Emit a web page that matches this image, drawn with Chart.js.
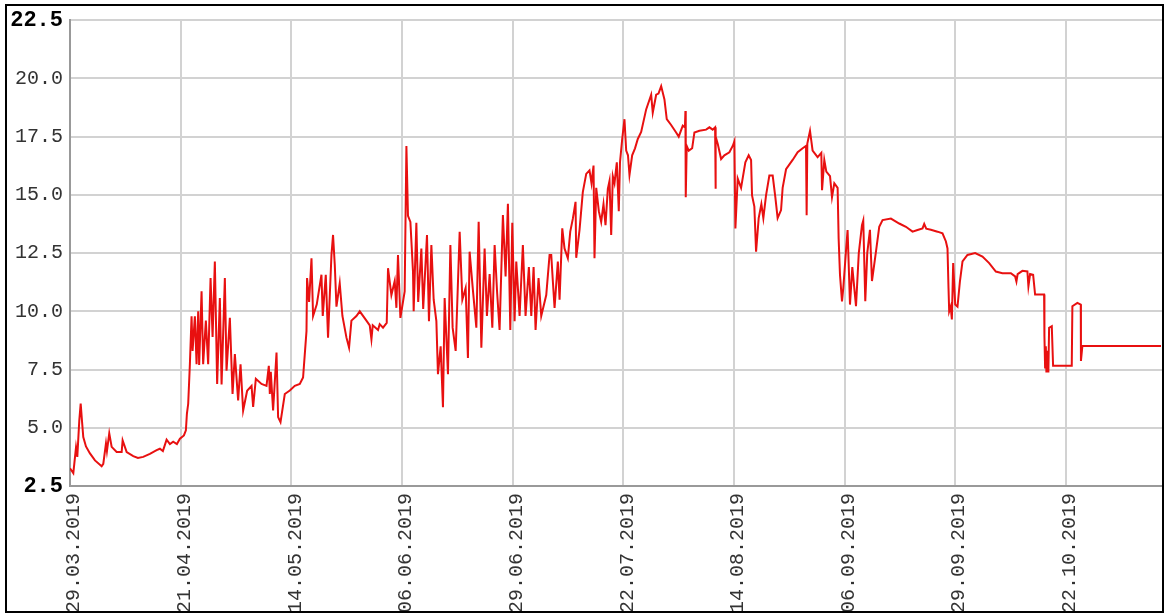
<!DOCTYPE html>
<html>
<head>
<meta charset="utf-8">
<script src="https://cdn.jsdelivr.net/npm/chart.js@4/dist/chart.umd.min.js"></script>
<style>
  html, body { margin: 0; padding: 0; background: #fff; overflow: hidden; }
  #frame {
    position: absolute; left: 5px; top: 4px; width: 1159px; height: 609px;
    border: 2px solid #000; box-sizing: border-box; overflow: hidden; background: #fff;
  }
  #chart { position: absolute; left: -7px; top: -6px; }
</style>
</head>
<body>
<div id="frame"><canvas id="chart" width="1164" height="660"></canvas></div>
<script>
// Days counted from 29.03.2019 and the reading at each of those moments
const dayOffsets = [
  0.00, 0.69, 1.25, 1.52, 1.93, 2.22, 2.49, 2.76, 3.32, 4.15, 5.19, 6.58, 6.92, 7.48, 7.68, 8.16, 8.66, 9.70,
  10.74, 10.94, 11.78, 13.15, 14.12, 15.22, 16.61, 18.01, 18.69, 19.31, 20.08, 20.77, 21.45, 22.22, 22.85,
  23.68, 24.09, 24.30, 24.57, 24.92, 25.27, 25.48, 25.96, 26.31, 26.65, 26.85, 27.35, 27.68, 28.24, 28.72,
  29.22, 29.64, 30.11, 30.59, 31.15, 31.51, 32.19, 32.54, 33.23, 33.79, 34.27, 34.95, 35.45, 35.99, 36.82,
  37.74, 38.07, 38.63, 39.81, 40.85, 41.33, 41.54, 41.74, 42.22, 42.93, 43.26, 43.76, 44.65, 45.69, 46.73,
  47.77, 48.45, 49.16, 49.28, 49.70, 50.20, 50.53, 51.30, 52.27, 52.54, 53.17, 53.64, 54.35, 54.68, 55.04,
  55.39, 56.07, 56.63, 57.47, 58.01, 58.50, 59.54, 60.23, 61.62, 62.31, 62.66, 62.93, 64.03, 64.38, 65.07,
  65.84, 66.11, 66.81, 67.50, 67.85, 68.18, 68.68, 69.57, 69.93, 70.26, 70.76, 71.30, 71.44, 72.00, 72.38,
  73.04, 73.42, 74.21, 74.62, 75.12, 75.60, 76.16, 76.49, 77.05, 77.53, 77.88, 78.57, 79.07, 79.54, 80.17,
  81.00, 81.56, 82.24, 82.72, 83.07, 83.76, 84.47, 84.95, 85.51, 86.19, 86.67, 87.23, 87.79, 88.27, 88.79,
  89.30, 89.99, 90.55, 91.03, 91.53, 91.94, 92.42, 92.77, 93.46, 94.14, 94.70, 95.39, 95.89, 96.37, 96.78,
  97.40, 97.96, 99.00, 99.69, 100.04, 100.37, 100.73, 101.41, 101.77, 102.33, 102.80, 103.49, 103.99,
  104.53, 105.09, 105.23, 105.92, 106.60, 107.31, 107.99, 108.41, 108.83, 109.03, 109.39, 109.93, 110.42,
  110.90, 111.32, 111.80, 112.15, 112.50, 112.84, 113.19, 113.67, 114.08, 114.33, 114.79, 115.26, 115.62,
  115.99, 116.30, 116.86, 117.45, 118.03, 118.73, 119.77, 120.81, 121.14, 121.85, 122.33, 122.89, 123.57,
  124.05, 124.96, 126.00, 126.54, 127.38, 127.83, 127.93, 128.00, 128.20, 128.62, 129.33, 129.80, 130.84,
  132.23, 132.92, 133.60, 134.10, 134.16, 134.27, 134.64, 135.35, 136.03, 137.07, 137.76, 138.11, 138.32,
  138.80, 139.50, 140.39, 141.08, 141.58, 141.78, 142.26, 142.62, 143.16, 143.72, 144.13, 144.69, 145.38,
  146.07, 146.62, 147.10, 147.81, 148.14, 148.85, 150.22, 151.26, 152.30, 153.00, 153.13, 153.27, 153.83,
  154.37, 155.41, 156.18, 156.33, 156.80, 157.22, 157.99, 158.40, 158.88, 159.57, 159.78, 160.06, 160.48,
  160.75, 161.31, 161.64, 162.14, 162.62, 163.39, 163.97, 164.63, 164.90, 165.32, 165.73, 166.29, 166.71,
  167.54, 168.22, 168.91, 170.65, 172.38, 173.77, 175.14, 176.18, 177.22, 177.57, 177.99, 178.96, 180.33,
  181.37, 182.08, 182.41, 182.62, 182.76, 183.07, 183.32, 183.59, 184.01, 184.49, 184.99, 185.53, 186.56,
  188.16, 189.68, 191.07, 192.46, 193.83, 195.58, 196.47, 196.74, 196.99, 197.98, 199.02, 199.23, 199.58,
  200.21, 200.62, 202.49, 202.56, 202.70, 202.85, 202.97, 203.18, 203.38, 203.53, 204.09, 204.36, 208.24,
  208.37, 209.41, 210.11, 210.15, 210.45, 226.80
];

const readings = [
  3.26, 3.05, 4.16, 3.75, 5.31, 6.04, 5.30, 4.60, 4.20, 3.90, 3.60, 3.35, 3.45, 4.33, 4.00, 4.76, 4.18, 3.96,
  3.96, 4.46, 3.96, 3.78, 3.70, 3.75, 3.88, 4.04, 4.10, 4.00, 4.49, 4.30, 4.40, 4.30, 4.53,
  4.67, 4.89, 5.60, 6.03, 7.73, 9.79, 8.30, 9.79, 7.73, 10.00, 7.70, 10.86, 7.73, 9.60, 7.73,
  11.43, 8.90, 12.14, 6.88, 10.57, 6.86, 11.43, 7.45, 9.72, 6.45, 8.16, 6.17, 7.73, 5.74, 6.59,
  6.80, 5.90, 7.10, 6.88, 6.80, 7.66, 6.45, 7.40, 5.74, 8.23, 5.46, 5.24, 6.45, 6.60, 6.80,
  6.88, 7.16, 9.15, 11.43, 10.40, 12.28, 9.80, 10.30, 11.57, 9.80, 11.57, 8.87, 12.42, 13.28, 12.00,
  10.20, 11.20, 9.80, 8.87, 8.44, 9.60, 9.80, 10.00, 9.60, 9.40, 8.80, 9.40, 9.20, 9.45, 9.30,
  9.50, 11.85, 10.70, 11.30, 10.15, 12.42, 9.72, 10.86, 17.10, 14.10, 13.84, 11.70, 10.00, 13.80, 10.40,
  12.70, 10.10, 13.28, 9.58, 12.85, 10.50, 9.58, 7.30, 8.50, 5.88, 10.57, 7.30, 12.85, 9.30, 8.30,
  13.42, 10.50, 11.00, 8.00, 12.56, 10.90, 9.30, 13.84, 8.44, 12.70, 9.80, 11.60, 9.30, 12.85, 10.80,
  9.20, 14.13, 11.50, 14.62, 9.20, 13.80, 9.58, 12.14, 9.80, 12.85, 9.80, 11.90, 9.80, 11.90, 9.20,
  11.43, 9.80, 10.70, 12.42, 12.42, 11.30, 10.15, 12.14, 10.50, 13.56, 12.70, 12.28, 13.42,
  13.98, 14.70, 12.30, 13.50, 15.12, 15.90, 16.05, 15.50, 16.26, 12.28, 15.30, 14.30, 13.84,
  14.60, 13.70, 15.26, 15.60, 13.28, 15.80, 15.50, 16.40, 14.30, 16.40, 17.40, 18.25, 16.90,
  16.70, 15.85, 16.70, 17.00, 17.40, 17.70, 18.67, 19.30, 18.53, 19.30, 19.35, 19.67, 19.10,
  18.25, 18.00, 17.68, 17.50, 17.97, 17.90, 18.60, 14.90, 17.10, 16.90, 17.00, 17.68, 17.75,
  17.80, 17.90, 17.80, 17.90, 15.26, 17.50, 17.20, 16.54, 16.70, 16.83, 17.10, 17.30, 13.56,
  15.70, 15.30, 16.40, 16.70, 16.50, 14.98, 14.50, 12.56, 14.00, 14.60, 14.00, 14.98, 15.83,
  15.83, 14.90, 14.00, 14.35, 15.30, 16.10, 16.50, 16.83, 17.00, 17.10, 14.13, 17.20, 17.75,
  16.90, 16.62, 16.80, 15.20, 16.50, 16.00, 15.80, 14.90, 15.50, 15.30, 13.13, 11.57, 10.43,
  11.00, 12.60, 13.49, 10.29, 11.90, 10.22, 12.50, 13.70, 13.90, 10.43, 12.50, 13.50, 11.30,
  12.56, 13.63, 13.92, 13.98, 13.77, 13.63, 13.42, 13.49, 13.56, 13.75, 13.55, 13.50, 13.42,
  13.35, 13.00, 12.70, 11.00, 10.00, 10.20, 9.65, 12.07, 10.29, 10.20, 11.28, 12.14, 12.42,
  12.50, 12.35, 12.07, 11.71, 11.64, 11.64, 11.50, 11.28, 11.60, 11.74, 11.71, 11.07, 11.60,
  11.57, 10.72, 10.72, 8.94, 7.59, 8.50, 7.37, 8.30, 7.37, 9.29, 9.36, 7.66, 7.66,
  10.22, 10.36, 10.29, 7.87, 8.51, 8.51
];

// Axis marks: tick positions (days from 29.03.2019) and their date labels
const tickDays = [0, 23, 46, 69, 92, 115, 138, 161, 184, 207];
const tickLabels = ['29.03.2019', '21.04.2019', '14.05.2019', '06.06.2019', '29.06.2019',
                    '22.07.2019', '14.08.2019', '06.09.2019', '29.09.2019', '22.10.2019'];
const yMin = 2.5, yMax = 22.5, yStep = 2.5;
const dayMax = 227;

const FONT = '"Liberation Mono", "DejaVu Sans Mono", monospace';
const points = dayOffsets.map((d, i) => ({ x: d, y: readings[i] }));

Chart.defaults.font.family = FONT;
Chart.defaults.font.size = 20;
Chart.defaults.color = '#333';

const isEndValue = (v) => Math.abs(v - yMin) < 1e-6 || Math.abs(v - yMax) < 1e-6;

// the companion label axis takes no layout space; give it the same band as
// the value axis (canvas edge to plot edge) so its labels are not clipped away
const alignEndLabels = {
  id: 'alignEndLabels',
  afterLayout(chart) {
    const s = chart.scales.yEnds;
    if (s) {
      s.left = 0;
      s.right = chart.chartArea.left;
      s.width = chart.chartArea.left;
    }
  }
};

new Chart(document.getElementById('chart'), {
  type: 'line',
  data: {
    datasets: [{
      data: points,
      borderColor: '#e81010',
      borderWidth: 2,
      pointRadius: 0,
      tension: 0,
      fill: false
    }]
  },
  plugins: [alignEndLabels],
  options: {
    responsive: false,
    animation: false,
    devicePixelRatio: 1,
    layout: { padding: { top: 17, right: 2, left: 0, bottom: 0 } },
    plugins: { legend: { display: false }, tooltip: { enabled: false } },
    scales: {
      x: {
        type: 'linear',
        min: 0,
        max: dayMax,
        afterBuildTicks: (scale) => { scale.ticks = tickDays.map(v => ({ value: v })); },
        afterFit: (scale) => { scale.height = 174; },
        grid: { color: '#d2d2d2', lineWidth: 2, drawTicks: false },
        border: { color: '#999', width: 2 },
        ticks: {
          autoSkip: false,
          maxRotation: 90,
          minRotation: 90,
          padding: 7,
          labelOffset: 4,
          color: '#333',
          font: { family: FONT, size: 20, weight: 'normal' },
          callback: (value, index) => tickLabels[index]
        }
      },
      // value axis: grid, border and the inner value labels
      y: {
        min: yMin,
        max: yMax,
        weight: 0,
        afterFit: (scale) => { scale.width = 70; },
        grid: { color: '#d2d2d2', lineWidth: 2, drawTicks: false },
        border: { color: '#999', width: 2 },
        ticks: {
          stepSize: yStep,
          padding: 7,
          color: '#333',
          font: { family: FONT, size: 20, weight: 'normal' },
          callback: (value) => isEndValue(value) ? '' : value.toFixed(1)
        }
      },
      // companion axis carrying the heavier lowest/highest value labels
      yEnds: {
        type: 'linear',
        position: 'left',
        min: yMin,
        max: yMax,
        weight: 1,
        afterFit: (scale) => { scale.width = 0; },
        grid: { display: false, drawTicks: false },
        border: { display: false },
        ticks: {
          stepSize: yStep,
          autoSkip: false,
          padding: 7,
          color: '#000',
          font: { family: FONT, size: 22, weight: 'bold' },
          callback: (value) => isEndValue(value) ? value.toFixed(1) : ''
        }
      }
    }
  }
});
</script>
</body>
</html>
